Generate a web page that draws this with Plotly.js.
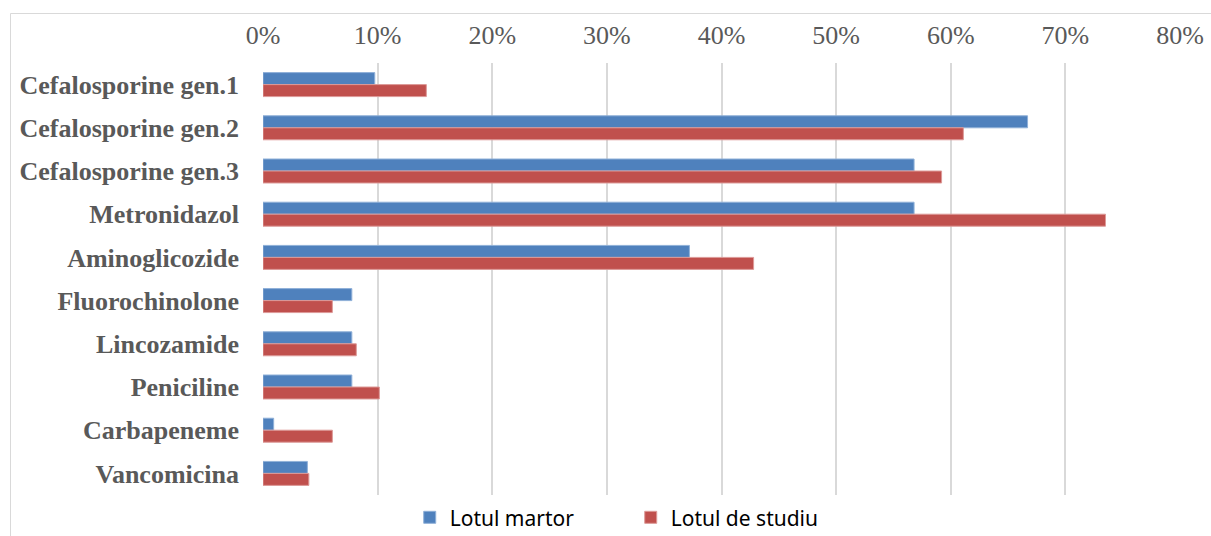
<!DOCTYPE html>
<html>
<head>
<meta charset="utf-8">
<script src="https://cdn.plot.ly/plotly-3.0.1.min.js"></script>
<style>
html,body{margin:0;padding:0;background:#fff;}
#chart{width:1211px;height:536px;}
</style>
</head>
<body>
<div id="chart"></div>
<script>
const categories = ["Cefalosporine gen.1","Cefalosporine gen.2","Cefalosporine gen.3","Metronidazol","Aminoglicozide","Fluorochinolone","Lincozamide","Peniciline","Carbapeneme","Vancomicina"];
const martor = [0.0975,0.667,0.568,0.568,0.372,0.0775,0.0775,0.0775,0.0093,0.0387];
const studiu = [0.1425,0.611,0.592,0.735,0.428,0.0605,0.0814,0.1015,0.0605,0.040];
const xTicks = [0,0.1,0.2,0.3,0.4,0.5,0.6,0.7,0.8];

const traces = [
  {type:'bar', orientation:'h', name:'Lotul martor', y:categories, x:martor,
   marker:{color:'#4F81BD', line:{color:'#8fb0d8', width:1}}},
  {type:'bar', orientation:'h', name:'Lotul de studiu', y:categories, x:studiu,
   marker:{color:'#C0504D', line:{color:'#dd9a98', width:1}}}
];

const layout = {
  width:1211, height:536,
  margin:{l:263, r:31, t:63, b:41, autoexpand:false},
  paper_bgcolor:'#ffffff', plot_bgcolor:'#ffffff',
  barmode:'group', bargap:0.445, bargroupgap:0,
  showlegend:true,
  xaxis:{side:'top', range:[0,0.8], tickvals:xTicks, tickformat:'.0%',
    showgrid:true, gridcolor:'#d9d9d9', gridwidth:2, zeroline:false,
    showline:false, ticks:'', ticklabelstandoff:13,
    tickfont:{family:'"Liberation Serif", "Times New Roman", serif', size:26, color:'#595959'}},
  yaxis:{type:'category', autorange:'reversed', showgrid:false, zeroline:false,
    showline:false, ticks:'', ticklabelstandoff:23,
    tickfont:{family:'"Liberation Serif", "Times New Roman", serif', size:26, color:'#595959', weight:'bold'}},
  legend:{orientation:'h', x:0.16, xanchor:'left', y:-0.005, yanchor:'top',
    font:{family:'"Noto Sans", "Liberation Sans", sans-serif', size:21, color:'#000'},
    entrywidth:176, entrywidthmode:'pixels', traceorder:'normal'},
  shapes:[{type:'rect', xref:'paper', yref:'paper',
    x0:(10.5-263)/917, x1:(1240-263)/917, y0:(495-560)/432, y1:(495-13.5)/432,
    line:{color:'#d9d9d9', width:1}, fillcolor:'rgba(0,0,0,0)', layer:'below'}]
};

Plotly.newPlot('chart', traces, layout, {displayModeBar:false, staticPlot:true});
</script>
</body>
</html>
